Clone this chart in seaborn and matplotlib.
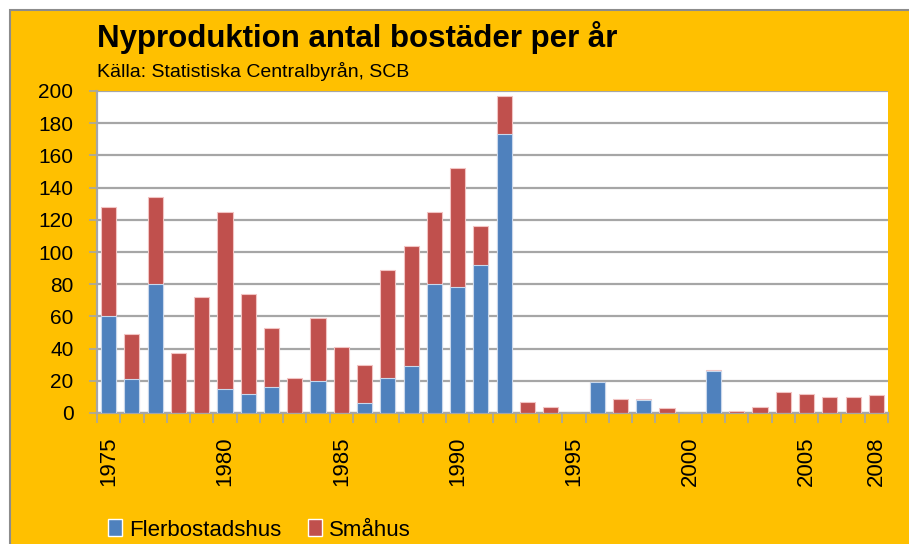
import numpy as np
import pandas as pd
import matplotlib
matplotlib.use("Agg")
import matplotlib.pyplot as plt
from matplotlib.patches import Rectangle, Patch
import seaborn as sns

# Data (number of dwellings per year)
years = list(range(1975, 2009))
flerbostadshus = [60, 21, 80, 0, 0, 15, 12, 16, 0, 20, 0, 6, 22, 29, 80, 78, 92, 173,
                  0, 0, 0, 19, 0, 8, 0, 0, 26, 0, 0, 0, 0, 0, 0, 0]
smahus = [68, 28, 54, 37, 72, 110, 62, 37, 22, 39, 41, 24, 67, 75, 45, 74, 24, 24,
          7, 4, 0, 0, 9, 1, 3, 0, 1, 1, 4, 13, 12, 10, 10, 11]
labelled_years = [1975, 1980, 1985, 1990, 1995, 2000, 2005, 2008]

blue = "#4F81BD"
red = "#C0504D"
orange = "#FFC000"
grid_grey = "#A6A6A6"

df = pd.DataFrame({"year": [str(y) for y in years],
                   "fler": flerbostadshus,
                   "sma": smahus})
df["total"] = df["fler"] + df["sma"]
order = df["year"].tolist()

sns.set_style("white")
plt.rcParams["font.family"] = ["Liberation Sans", "DejaVu Sans"]
plt.rcParams["text.color"] = "black"
plt.rcParams["xtick.color"] = "black"
plt.rcParams["ytick.color"] = "black"

fig = plt.figure(figsize=(9.09, 5.44), dpi=100)
fig.patch.set_facecolor("white")
# orange chart area with grey border, behind the axes
bg = Rectangle((10 / 909, -0.01), 1.0, 1 - 10 / 544 + 0.01,
               transform=fig.transFigure, facecolor=orange,
               edgecolor="#8C8C8C", linewidth=1.5, zorder=-10)
fig.patches.append(bg)

ax = fig.add_axes([97 / 909, 131 / 544, 791 / 909, 322 / 544])
ax.set_facecolor("white")

# stacked bars: total (red) first, then blue part on top of it
sns.barplot(data=df, x="year", y="total", order=order, color=red, width=0.65,
            saturation=1, edgecolor="#F2C4C3", linewidth=0.8, ax=ax, zorder=3)
sns.barplot(data=df, x="year", y="fler", order=order, color=blue, width=0.65,
            saturation=1, edgecolor="#C9D8EC", linewidth=0.8, ax=ax, zorder=4)

ax.set_ylim(0, 200)
ax.set_xlim(-0.5, len(years) - 0.5)
ax.set_yticks(np.arange(0, 201, 20))
ax.yaxis.grid(True, color=grid_grey, linewidth=1.6, zorder=1)
ax.set_axisbelow(True)

# major ticks at category boundaries, labels on minor ticks at bar centres
ax.set_xticks(np.arange(-0.5, len(years), 1.0))
ax.set_xticklabels([])
lab_pos = [years.index(y) for y in labelled_years]
ax.set_xticks(lab_pos, minor=True)
ax.set_xticklabels([str(y) for y in labelled_years], minor=True, rotation=90,
                   fontsize=16)
ax.tick_params(axis="x", which="major", direction="out", length=7, width=1.2,
               color=grid_grey, bottom=True)
ax.tick_params(axis="x", which="minor", length=0, pad=17)
ax.tick_params(axis="y", direction="out", length=6, width=1.2, color=grid_grey,
               left=True, labelsize=15, pad=11)
for lab in ax.get_xticklabels(minor=True):
    lab.set_verticalalignment("top")

ax.set_xlabel("")
ax.set_ylabel("")
for s in ["top", "right"]:
    ax.spines[s].set_visible(False)
for s in ["left", "bottom"]:
    ax.spines[s].set_color(grid_grey)
    ax.spines[s].set_linewidth(1.6)

fig.text(97 / 909, 1 - 47 / 544, "Nyproduktion antal bostäder per år",
         fontsize=22.5, fontweight="bold", va="baseline", ha="left")
fig.text(97 / 909, 1 - 77 / 544, "Källa: Statistiska Centralbyrån, SCB",
         fontsize=14, va="baseline", ha="left")

handles = [Patch(facecolor=blue, label="Flerbostadshus"),
           Patch(facecolor=red, label="Småhus")]
fig.legend(handles=handles, loc="center left", bbox_to_anchor=(99 / 909, 1 - 530 / 544),
           ncol=2, frameon=False, fontsize=16, handlelength=0.65, handleheight=0.8,
           handletextpad=0.3, columnspacing=1.2, borderaxespad=0)

fig.savefig("out.png", dpi=100)
